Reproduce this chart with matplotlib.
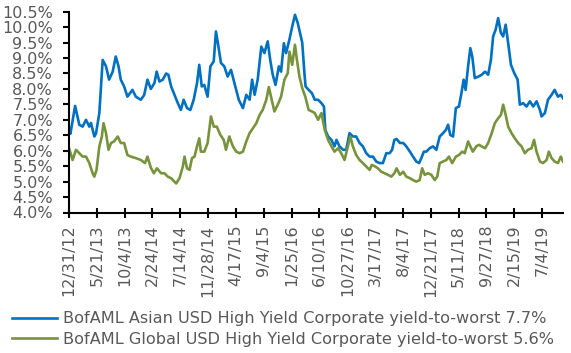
import matplotlib

matplotlib.use("Agg")
import matplotlib.pyplot as plt

# x = business days since 12/31/12, y = yield-to-worst (%)
asian_day = [0, 5, 22, 37, 49, 61, 73, 79, 91, 97, 109, 121, 133, 144, 157, 168,
             178, 186, 198, 210, 228, 240, 258, 270, 282, 294, 307, 315, 325, 337,
             349, 357, 367, 379, 391, 402, 412, 424, 436, 448, 460, 468, 477, 486,
             498, 508, 520, 528, 537, 546, 558, 570, 582, 591, 599, 610, 625, 637,
             649, 658, 667, 678, 691, 702, 714, 723, 732, 742, 754, 762, 772, 780,
             792, 802, 812, 822, 830, 838, 846, 850, 861, 873, 883, 895, 907, 916,
             921, 931, 943, 954, 961, 972, 985, 996, 1008, 1020, 1032, 1044, 1056,
             1068, 1080, 1092, 1104, 1116, 1128, 1140, 1152, 1161, 1169, 1177, 1189,
             1201, 1212, 1225, 1236, 1248, 1258, 1266, 1275, 1284, 1296, 1308, 1320,
             1332, 1344, 1354, 1362, 1370, 1380, 1390, 1401, 1410, 1418, 1425, 1434,
             1442, 1449, 1458, 1471, 1483, 1495, 1506, 1516, 1524, 1533, 1542, 1552,
             1560, 1569, 1578, 1588, 1600, 1612, 1620, 1632, 1644, 1656, 1668, 1680,
             1692, 1698, 1710, 1721, 1734, 1745, 1757, 1767, 1775]
asian_ytw = [6.75, 6.55, 7.45, 6.84, 6.78, 7.0, 6.78, 6.9, 6.46, 6.56, 7.22, 8.94,
             8.73, 8.3, 8.56, 9.05, 8.73, 8.3, 8.08, 7.75, 7.97, 7.75, 7.65, 7.8,
             8.3, 8.0, 8.19, 8.56, 8.24, 8.3, 8.5, 8.46, 8.08, 7.81, 7.54, 7.32,
             7.65, 7.38, 7.32, 7.65, 8.19, 8.78, 8.08, 8.13, 7.75, 8.73, 8.89, 9.86,
             9.37, 8.84, 8.73, 8.4, 8.62, 8.3, 8.03, 7.65, 7.38, 7.81, 7.65, 8.3,
             7.81, 8.3, 9.37, 9.16, 9.54, 8.94, 8.46, 8.13, 8.73, 8.56, 9.48, 9.16,
             9.6, 10.02, 10.4, 10.13, 9.81, 9.5, 8.5, 8.08, 7.97, 7.86, 7.65, 7.65,
             7.54, 7.43, 6.67, 6.46, 6.35, 6.14, 6.35, 6.14, 6.03, 6.03, 6.57, 6.46,
             6.46, 6.25, 6.14, 5.92, 5.81, 5.81, 5.65, 5.6, 5.6, 5.92, 5.92, 6.03,
             6.35, 6.38, 6.25, 6.25, 6.14, 5.97, 5.81, 5.65, 5.6, 5.76, 5.97, 5.97,
             6.08, 6.14, 6.03, 6.46, 6.57, 6.67, 6.84, 6.51, 6.46, 7.38, 7.43, 7.86,
             8.3, 7.97, 8.73, 9.32, 9.05, 8.35, 8.4, 8.46, 8.56, 8.46, 8.94, 9.7,
             9.92, 10.29, 9.81, 9.7, 10.08, 9.48, 8.78, 8.51, 8.3, 7.49, 7.54, 7.43,
             7.6, 7.43, 7.6, 7.32, 7.11, 7.22, 7.65, 7.81, 7.97, 7.75, 7.81, 7.7]

global_day = [0, 13, 25, 37, 49, 61, 73, 85, 91, 99, 109, 118, 124, 133, 142, 151,
              162, 175, 186, 198, 210, 222, 240, 258, 273, 282, 294, 305, 316, 331,
              343, 355, 367, 379, 385, 397, 409, 415, 424, 433, 442, 451, 460, 468,
              474, 486, 498, 510, 520, 531, 544, 556, 564, 576, 589, 601, 613, 625,
              637, 649, 661, 673, 685, 696, 709, 718, 726, 738, 750, 762, 774, 786,
              792, 802, 812, 818, 828, 838, 849, 861, 873, 883, 895, 907, 919, 931,
              943, 954, 967, 978, 990, 1002, 1011, 1020, 1032, 1044, 1056, 1068,
              1080, 1088, 1100, 1110, 1122, 1134, 1146, 1158, 1169, 1177, 1189, 1201,
              1212, 1225, 1236, 1248, 1260, 1269, 1278, 1290, 1302, 1314, 1323, 1332,
              1344, 1356, 1365, 1377, 1390, 1401, 1413, 1422, 1434, 1442, 1451, 1463,
              1473, 1483, 1495, 1506, 1519, 1530, 1542, 1552, 1560, 1569, 1578, 1590,
              1602, 1614, 1626, 1638, 1649, 1662, 1671, 1680, 1692, 1703, 1716, 1724,
              1734, 1745, 1757, 1767, 1775]
global_ytw = [6.08, 5.7, 6.03, 5.92, 5.81, 5.81, 5.6, 5.27, 5.16, 5.38, 6.14, 6.46,
              6.89, 6.57, 6.03, 6.25, 6.3, 6.46, 6.25, 6.25, 5.86, 5.81, 5.76, 5.7,
              5.6, 5.81, 5.45, 5.27, 5.43, 5.27, 5.27, 5.16, 5.11, 5.0, 4.94, 5.11,
              5.49, 5.81, 5.43, 5.38, 5.76, 5.81, 6.14, 6.4, 5.97, 5.97, 6.25, 7.11,
              6.78, 6.78, 6.51, 6.35, 6.03, 6.46, 6.14, 5.97, 5.92, 5.97, 6.3, 6.57,
              6.73, 6.89, 7.16, 7.32, 7.65, 8.06, 7.75, 7.27, 7.49, 7.75, 8.3, 8.51,
              9.21, 8.78, 9.43, 9.0, 8.4, 8.03, 7.75, 7.32, 7.27, 7.22, 7.0, 7.22,
              6.67, 6.35, 6.14, 5.97, 6.08, 5.92, 5.7, 6.14, 6.46, 6.14, 5.86, 5.7,
              5.6, 5.49, 5.38, 5.54, 5.49, 5.43, 5.32, 5.27, 5.22, 5.16, 5.27, 5.43,
              5.22, 5.32, 5.16, 5.11, 5.05, 5.0, 5.05, 5.43, 5.22, 5.27, 5.22, 5.05,
              5.16, 5.6, 5.65, 5.7, 5.81, 5.6, 5.81, 5.86, 5.97, 5.92, 6.3, 6.14,
              5.97, 6.14, 6.19, 6.14, 6.08, 6.25, 6.57, 6.89, 7.05, 7.16, 7.49, 7.16,
              6.78, 6.57, 6.4, 6.25, 6.14, 5.92, 6.03, 6.08, 6.35, 5.97, 5.65, 5.6,
              5.7, 5.97, 5.76, 5.65, 5.6, 5.81, 5.65]

tick_labels = ["12/31/12", "5/21/13", "10/4/13", "2/24/14", "7/14/14", "11/28/14",
               "4/17/15", "9/4/15", "1/25/16", "6/10/16", "10/27/16", "3/17/17",
               "8/4/17", "12/21/17", "5/11/18", "9/27/18", "2/15/19", "7/4/19"]
y_ticks = [4.0 + 0.5 * i for i in range(14)]

ASIAN_LABEL = "BofAML Asian USD High Yield Corporate yield-to-worst 7.7%"
GLOBAL_LABEL = "BofAML Global USD High Yield Corporate yield-to-worst 5.6%"
BLUE = "#0070C0"
GREEN = "#77933C"
GREY = "#595959"

plt.rcParams.update({
    "font.family": "DejaVu Sans",
    "font.size": 11,
})

fig = plt.figure(figsize=(5.71, 3.53), dpi=100)
ax = fig.add_axes([69 / 571, 140.5 / 353, (563 - 69) / 571, 200.8 / 353])

ax.plot(asian_day, asian_ytw, color=BLUE, linewidth=1.9, label=ASIAN_LABEL)
ax.plot(global_day, global_ytw, color=GREEN, linewidth=1.9, label=GLOBAL_LABEL)

ax.set_xlim(0, 1775)
ax.set_ylim(4.0, 10.5)
ax.set_yticks(y_ticks)
ax.set_yticklabels([f"{v:.1f}%" for v in y_ticks])
ax.set_xticks([100 * i for i in range(len(tick_labels))])
ax.set_xticklabels(tick_labels, rotation=90)

for s in ("top", "right"):
    ax.spines[s].set_visible(False)
for s in ("left", "bottom"):
    ax.spines[s].set_linewidth(1.5)
    ax.spines[s].set_color("black")

ax.tick_params(axis="y", direction="out", length=4.5, width=1.5,
               pad=7, labelcolor=GREY, labelsize=11.5)
ax.tick_params(axis="x", direction="inout", length=7.5, width=1.5,
               pad=5, labelcolor=GREY, labelsize=11.5)

leg = fig.legend(loc="upper left", bbox_to_anchor=(12 / 571, 0.118), frameon=False,
                 handlelength=2.8, handletextpad=0.37, labelspacing=0.32,
                 borderaxespad=0, borderpad=0, fontsize=11.6)
for t in leg.get_texts():
    t.set_color(GREY)

fig.savefig("out.png", dpi=100)
